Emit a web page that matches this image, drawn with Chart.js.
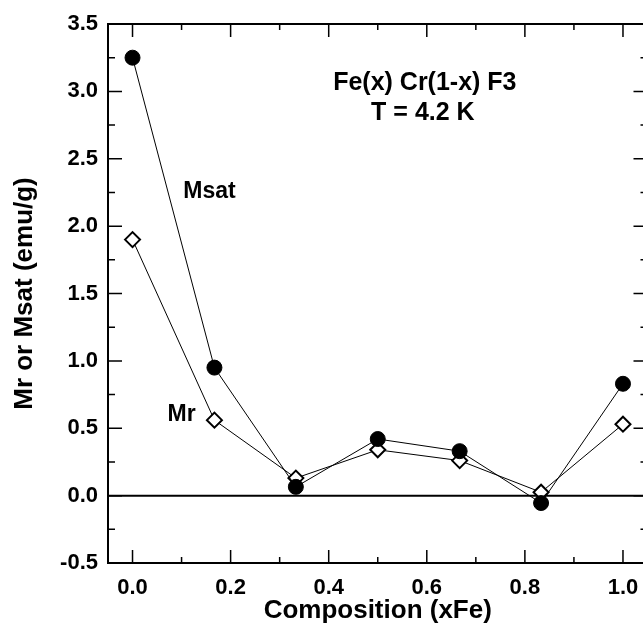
<!DOCTYPE html>
<html>
<head>
<meta charset="utf-8">
<script src="https://cdn.jsdelivr.net/npm/chart.js@4/dist/chart.umd.min.js"></script>
<style>
  html, body { margin: 0; padding: 0; background: #fff; overflow: hidden; }
  #wrap { width: 643px; height: 627px; overflow: hidden; position: relative; }
  #chart { position: absolute; left: 0; top: 0; }
</style>
</head>
<body>
<div id="wrap"><canvas id="chart" width="657" height="627"></canvas></div>
<script>
// composition xFe
var composition = [0, 0.167, 0.333, 0.5, 0.667, 0.833, 1.0];
// saturation magnetisation, emu/g
var msat = [3.25, 0.95, 0.065, 0.42, 0.33, -0.055, 0.83];
// remanent magnetisation, emu/g
var mr = [1.90, 0.56, 0.13, 0.34, 0.26, 0.025, 0.53];

var xTicks = [0, 0.2, 0.4, 0.6, 0.8, 1.0];
var yTicks = [-0.5, 0, 0.5, 1.0, 1.5, 2.0, 2.5, 3.0, 3.5];

// text labels placed in data coordinates
var notes = [
  { text: "Fe(x) Cr(1-x) F3", x: 0.596, y: 3.065, size: 25 },
  { text: "T = 4.2 K", x: 0.592, y: 2.84, size: 25 },
  { text: "Msat", x: 0.157, y: 2.256, size: 23 },
  { text: "Mr", x: 0.10, y: 0.60, size: 23 }
];

var FONT = "'Liberation Sans', Arial, Helvetica, sans-serif";

function pts(ys) {
  var out = [];
  for (var i = 0; i < composition.length; i++) {
    out.push({ x: composition[i], y: ys[i] });
  }
  return out;
}

// frame, inward ticks, zero line and notes
var framePlugin = {
  id: "frame",
  beforeDatasetsDraw: function(chart) {
    var ctx = chart.ctx;
    var a = chart.chartArea;
    var xs = chart.scales.x, ys = chart.scales.y;
    ctx.save();
    ctx.strokeStyle = "#000";

    // zero line
    ctx.lineWidth = 2;
    var y0 = ys.getPixelForValue(0);
    ctx.beginPath();
    ctx.moveTo(a.left, y0);
    ctx.lineTo(a.right, y0);
    ctx.stroke();

    // ticks
    ctx.lineWidth = 1.5;
    var v, p, len;
    for (v = 0; v <= 1.0001; v += 0.1) {
      p = xs.getPixelForValue(v);
      len = (Math.round(v * 10) % 2 === 0) ? 13 : 6;
      ctx.beginPath();
      ctx.moveTo(p, a.bottom); ctx.lineTo(p, a.bottom - len);
      ctx.moveTo(p, a.top); ctx.lineTo(p, a.top + len);
      ctx.stroke();
    }
    for (v = -0.5; v <= 3.5001; v += 0.25) {
      p = ys.getPixelForValue(v);
      len = (Math.round(v * 4) % 2 === 0) ? 14 : 7;
      ctx.beginPath();
      ctx.moveTo(a.left, p); ctx.lineTo(a.left + len, p);
      ctx.moveTo(a.right, p); ctx.lineTo(a.right - len, p);
      ctx.stroke();
    }

    // box
    ctx.lineWidth = 2;
    ctx.strokeRect(a.left, a.top, a.right - a.left, a.bottom - a.top);

    // notes
    ctx.fillStyle = "#000";
    ctx.textAlign = "center";
    ctx.textBaseline = "middle";
    notes.forEach(function(n) {
      ctx.font = "bold " + n.size + "px " + FONT;
      ctx.fillText(n.text, xs.getPixelForValue(n.x), ys.getPixelForValue(n.y));
    });
    ctx.restore();
  }
};

var ctx = document.getElementById("chart");

var chart = new Chart(ctx, {
  type: "line",
  data: {
    datasets: [
      {
        label: "Msat",
        data: pts(msat),
        borderColor: "#000",
        backgroundColor: "#000",
        borderWidth: 1,
        pointStyle: "circle",
        pointRadius: 7.5,
        pointBorderWidth: 1,
        pointBackgroundColor: "#000",
        fill: false,
        tension: 0
      },
      {
        label: "Mr",
        data: pts(mr),
        borderColor: "#000",
        backgroundColor: "#fff",
        borderWidth: 1,
        pointStyle: "rectRot",
        pointRadius: 7.5,
        pointBorderWidth: 2,
        pointBackgroundColor: "#fff",
        fill: false,
        tension: 0
      }
    ]
  },
  options: {
    responsive: false,
    animation: false,
    layout: { padding: { left: 0, top: 24, right: 2.5, bottom: 0 } },
    plugins: {
      legend: { display: false },
      tooltip: { enabled: false }
    },
    scales: {
      x: {
        type: "linear",
        min: -0.05,
        max: 1.05,
        grid: { display: false, drawTicks: false },
        border: { display: false },
        afterBuildTicks: function(s) { s.ticks = xTicks.map(function(v) { return { value: v }; }); },
        afterFit: function(s) { s.height = 64; },
        ticks: {
          padding: 12,
          color: "#000",
          font: { family: FONT, size: 22, weight: "bold" },
          callback: function(v) { return v.toFixed(1); }
        },
        title: {
          display: true,
          text: "Composition (xFe)",
          color: "#000",
          font: { family: FONT, size: 26, weight: "bold" },
          padding: { top: 0, bottom: 1 }
        }
      },
      y: {
        type: "linear",
        min: -0.5,
        max: 3.5,
        grid: { display: false, drawTicks: false },
        border: { display: false },
        afterBuildTicks: function(s) { s.ticks = yTicks.map(function(v) { return { value: v }; }); },
        afterFit: function(s) { s.width = 108; },
        ticks: {
          padding: 10,
          color: "#000",
          font: { family: FONT, size: 22, weight: "bold" },
          callback: function(v) { return v.toFixed(1); }
        },
        title: {
          display: true,
          text: "Mr or Msat (emu/g)",
          color: "#000",
          font: { family: FONT, size: 26, weight: "bold" },
          padding: { top: 9, bottom: 0 }
        }
      }
    }
  },
  plugins: [framePlugin]
});
</script>
</body>
</html>
